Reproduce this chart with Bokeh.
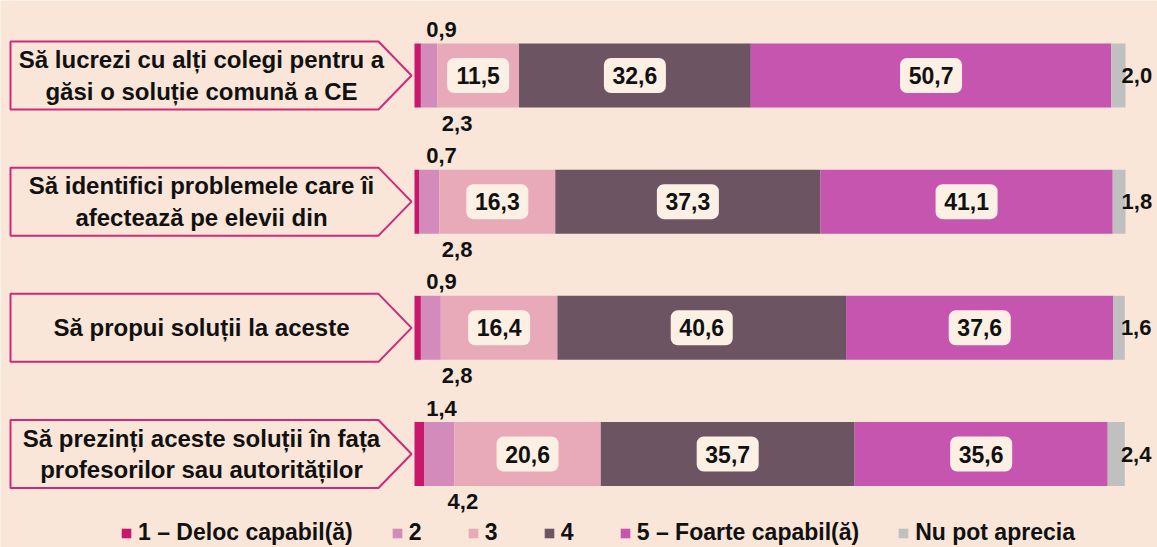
from bokeh.plotting import figure
from bokeh.models import Range1d, ColumnDataSource, Legend, LegendItem
from bokeh.core.properties import value
from bokeh.embed import file_html
from bokeh.resources import INLINE

# ---------------- data ----------------
questions = [
    "Să lucrezi cu alți colegi pentru a\ngăsi o soluție comună a CE",
    "Să identifici problemele care îi\nafectează pe elevii din",
    "Să propui soluții la aceste",
    "Să prezinți aceste soluții în fața\nprofesorilor sau autorităților",
]
series_names = ["1 – Deloc capabil(ă)", "2", "3", "4", "5 – Foarte capabil(ă)", "Nu pot aprecia"]
s1 = [0.9, 0.7, 0.9, 1.4]
s2 = [2.3, 2.8, 2.8, 4.2]
s3 = [11.5, 16.3, 16.4, 20.6]
s4 = [32.6, 37.3, 40.6, 35.7]
s5 = [50.7, 41.1, 37.6, 35.6]
s6 = [2.0, 1.8, 1.6, 2.4]
series = [s1, s2, s3, s4, s5, s6]

# ---------------- style ----------------
BG = "#FAE6D8"
BOX = "#FCF0E4"
COLORS = ["#C8186E", "#D28BBA", "#E8AAB8", "#6D5463", "#C655AF", "#C0C0C0"]
MAGENTA = "#CC2A7A"
FONT = "Liberation Sans"
TXT = "#111111"

W, H = 1157, 547
PX = 7.11          # px per percent
PY = 126.17        # px per row
X0 = 414           # px of 0 %
Y0 = 75            # px of first row centre

p = figure(width=W, height=H, output_backend="svg", toolbar_location=None,
           x_range=Range1d(-X0 / PX, (W - X0) / PX),
           y_range=Range1d((H - Y0) / PY, -Y0 / PY),
           min_border=0, background_fill_color=BG, border_fill_color=BG,
           outline_line_color=None)
p.axis.visible = False
p.grid.visible = False

rows = list(range(len(questions)))
bar_h = 64 / PY

fmt = lambda v: f"{v:.1f}".replace(".", ",")

renderers = []
lefts = [0.0] * len(rows)
seg_left = []
for k, s in enumerate(series):
    rights = [l + v for l, v in zip(lefts, s)]
    src = ColumnDataSource(dict(y=rows, left=lefts, right=rights))
    r = p.hbar(y="y", left="left", right="right", height=bar_h, source=src,
               fill_color=COLORS[k], line_color=None)
    renderers.append(r)
    seg_left.append(lefts)
    lefts = rights

# inside labels (series 3,4,5)
for k in (2, 3, 4):
    xs = [l + v / 2 for l, v in zip(seg_left[k], series[k])]
    src = ColumnDataSource(dict(x=xs, y=rows, t=[fmt(v) for v in series[k]]))
    p.rect(x="x", y="y", width=62, height=35, width_units="screen", height_units="screen",
           source=src, fill_color=BOX, line_color=None, border_radius=7)
    p.text(x="x", y="y", text="t", source=src, text_align="center", text_baseline="middle",
           text_font=value(FONT), text_font_style="bold", text_font_size="23px", text_color=TXT)

# outside labels: series 1 above, series 2 below, series 6 right
top_off = (32 + 14) / PY
bot_off = (32 + 15.5) / PY
src = ColumnDataSource(dict(x=[3.8] * len(rows), y=[r - top_off for r in rows], t=[fmt(v) for v in s1]))
p.text(x="x", y="y", text="t", source=src, text_align="center", text_baseline="middle",
       text_font=value(FONT), text_font_style="bold", text_font_size="22px", text_color=TXT)
bx = [max(6.0, a + b + 1.2) for a, b in zip(s1, s2)]
src = ColumnDataSource(dict(x=bx, y=[r + bot_off for r in rows], t=[fmt(v) for v in s2]))
p.text(x="x", y="y", text="t", source=src, text_align="center", text_baseline="middle",
       text_font=value(FONT), text_font_style="bold", text_font_size="22px", text_color=TXT)
src = ColumnDataSource(dict(x=[l - 0.55 for l in lefts], y=rows, t=[fmt(v) for v in s6]))
p.text(x="x", y="y", text="t", source=src, text_align="left", text_baseline="middle",
       text_font=value(FONT), text_font_style="bold", text_font_size="22px", text_color=TXT)

# callout boxes
cl, cr, ct = (10 - X0) / PX, (378 - X0) / PX, (411 - X0) / PX
hh = 34 / PY
cxs = [[cl, cr, ct, cr, cl] for _ in rows]
cys = [[r - hh, r - hh, r, r + hh, r + hh] for r in rows]
p.patches(cxs, cys, fill_color=BG, line_color=MAGENTA, line_width=2)
src = ColumnDataSource(dict(x=[(201 - X0) / PX] * len(rows), y=rows, t=questions))
p.text(x="x", y="y", text="t", source=src, text_align="center", text_baseline="middle",
       text_font=value(FONT), text_font_style="bold", text_font_size="24px", text_color=TXT,
       text_line_height=1.17)

legend = Legend(items=[LegendItem(label=n, renderers=[r]) for n, r in zip(series_names, renderers)],
                orientation="horizontal", location=(120, 1), spacing=38, padding=0, margin=0,
                glyph_width=12, glyph_height=12, label_standoff=6,
                label_text_font=FONT, label_text_font_style="bold", label_text_font_size="23px",
                label_text_color=TXT, background_fill_alpha=0, border_line_alpha=0)
p.add_layout(legend)

html = file_html(p, INLINE)
html = html.replace("<body>", '<body style="background:%s">' % BG, 1)
open("out.html", "w").write(html)
